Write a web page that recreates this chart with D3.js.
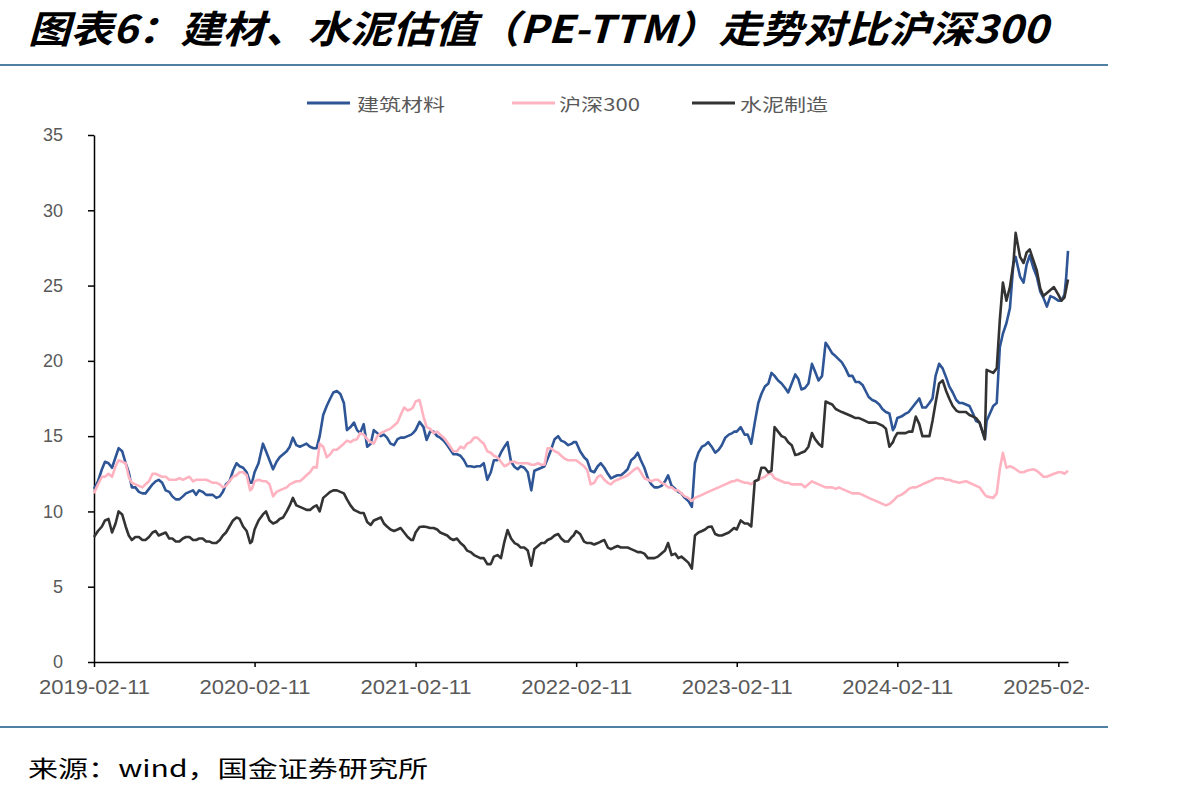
<!DOCTYPE html>
<html><head><meta charset="utf-8">
<script src="https://cdn.jsdelivr.net/npm/d3@7"></script>
<style>body{margin:0;background:#fff;} svg{display:block}</style>
</head><body><svg id="c" width="1198" height="798"></svg>
<script>
const dates = [
"2019-02-11","2019-02-20","2019-03-01","2019-03-08","2019-03-16","2019-03-24","2019-04-01","2019-04-08","2019-04-16","2019-04-24","2019-05-01","2019-05-08","2019-05-16","2019-05-24","2019-06-01","2019-06-08","2019-06-16","2019-06-24","2019-07-01","2019-07-08","2019-07-16","2019-07-24","2019-08-01","2019-08-08","2019-08-16","2019-08-24","2019-09-01","2019-09-08","2019-09-16","2019-09-24","2019-10-01","2019-10-08","2019-10-16","2019-10-24","2019-11-01","2019-11-08","2019-11-16","2019-11-24","2019-12-01","2019-12-08","2019-12-16","2019-12-24","2020-01-01","2020-01-08","2020-01-16","2020-01-24","2020-02-01","2020-02-05",
"2020-02-11","2020-02-20","2020-03-01","2020-03-08","2020-03-16","2020-03-24","2020-04-01","2020-04-08","2020-04-16","2020-04-24","2020-05-01","2020-05-08","2020-05-16","2020-05-24","2020-06-01","2020-06-08","2020-06-16","2020-06-24","2020-07-01","2020-07-08","2020-07-16","2020-07-24","2020-08-01","2020-08-08","2020-08-16","2020-08-24","2020-09-01","2020-09-08","2020-09-16","2020-09-24","2020-10-01","2020-10-08","2020-10-16","2020-10-24","2020-11-01","2020-11-08","2020-11-16","2020-11-24","2020-12-01","2020-12-08","2020-12-16","2020-12-24","2021-01-01","2021-01-08","2021-01-16","2021-01-24","2021-02-01","2021-02-05",
"2021-02-11","2021-02-20","2021-03-01","2021-03-08","2021-03-16","2021-03-24","2021-04-01","2021-04-08","2021-04-16","2021-04-24","2021-05-01","2021-05-08","2021-05-16","2021-05-24","2021-06-01","2021-06-08","2021-06-16","2021-06-24","2021-07-01","2021-07-08","2021-07-16","2021-07-24","2021-08-01","2021-08-08","2021-08-16","2021-08-24","2021-09-01","2021-09-08","2021-09-16","2021-09-24","2021-10-01","2021-10-08","2021-10-16","2021-10-24","2021-11-01","2021-11-08","2021-11-16","2021-11-24","2021-12-01","2021-12-08","2021-12-16","2021-12-24","2022-01-01","2022-01-08","2022-01-16","2022-01-24","2022-02-01","2022-02-05",
"2022-02-11","2022-02-20","2022-03-01","2022-03-08","2022-03-16","2022-03-24","2022-04-01","2022-04-08","2022-04-16","2022-04-24","2022-05-01","2022-05-08","2022-05-16","2022-05-24","2022-06-01","2022-06-08","2022-06-16","2022-06-24","2022-07-01","2022-07-08","2022-07-16","2022-07-24","2022-08-01","2022-08-08","2022-08-16","2022-08-24","2022-09-01","2022-09-08","2022-09-16","2022-09-24","2022-10-01","2022-10-08","2022-10-16","2022-10-24","2022-11-01","2022-11-08","2022-11-16","2022-11-24","2022-12-01","2022-12-08","2022-12-16","2022-12-24","2023-01-01","2023-01-08","2023-01-16","2023-01-24","2023-02-01","2023-02-05",
"2023-02-11","2023-02-20","2023-03-01","2023-03-08","2023-03-16","2023-03-24","2023-04-01","2023-04-08","2023-04-16","2023-04-24","2023-05-01","2023-05-08","2023-05-16","2023-05-24","2023-06-01","2023-06-08","2023-06-16","2023-06-24","2023-07-01","2023-07-08","2023-07-16","2023-07-24","2023-08-01","2023-08-08","2023-08-16","2023-08-24","2023-09-01","2023-09-08","2023-09-16","2023-09-24","2023-10-01","2023-10-08","2023-10-16","2023-10-24","2023-11-01","2023-11-08","2023-11-16","2023-11-24","2023-12-01","2023-12-08","2023-12-16","2023-12-24","2024-01-01","2024-01-08","2024-01-16","2024-01-24","2024-02-01","2024-02-05",
"2024-02-11","2024-02-20","2024-03-01","2024-03-08","2024-03-16","2024-03-24","2024-04-01","2024-04-08","2024-04-16","2024-04-24","2024-05-01","2024-05-08","2024-05-16","2024-05-24","2024-06-01","2024-06-08","2024-06-16","2024-06-24","2024-07-01","2024-07-08","2024-07-16","2024-07-24","2024-08-01","2024-08-08","2024-08-16",
"2024-08-28","2024-09-01","2024-09-16","2024-09-24","2024-10-01","2024-10-08","2024-10-16","2024-10-24","2024-11-01","2024-11-06","2024-11-16","2024-11-24","2024-12-01","2024-12-08","2024-12-16","2024-12-24","2025-01-01","2025-01-08","2025-01-16","2025-01-24","2025-02-01","2025-02-11","2025-02-18","2025-02-25","2025-03-01","2025-03-05"
];
// 建筑材料
const buildingMaterials = [
11.5,12.0,12.8,13.3,13.2,12.9,13.6,14.2,14.0,13.2,12.6,11.6,11.6,11.3,11.2,11.2,11.5,11.8,12.0,12.1,11.9,11.4,11.3,11.0,10.8,10.8,11.0,11.2,11.3,11.4,11.1,11.4,11.3,11.1,11.1,11.1,10.9,11.0,11.3,11.8,12.0,12.7,13.2,13.0,12.9,12.6,11.9,11.9,
12.6,13.2,14.5,14.0,13.4,12.8,13.3,13.6,13.8,14.0,14.3,14.9,14.4,14.3,14.4,14.5,14.3,14.2,14.2,15.0,16.4,17.0,17.5,17.9,18.0,17.8,17.2,15.4,15.6,15.9,15.4,15.2,15.8,14.3,14.5,15.4,15.2,15.0,15.1,14.9,14.5,14.4,14.8,14.9,14.9,15.0,15.1,15.2,
15.4,15.95,15.6,14.75,15.3,15.3,15.0,14.9,14.7,14.4,14.1,13.8,13.8,13.7,13.4,13.0,13.0,12.95,13.0,13.0,13.2,12.1,12.6,13.4,13.4,13.9,14.3,14.6,13.3,12.95,12.8,13.0,12.9,12.6,11.4,12.7,12.8,12.9,13.0,13.5,14.1,14.8,15.0,14.7,14.6,14.4,14.5,14.6,
14.6,14.0,13.6,13.4,12.7,12.6,13.0,13.2,12.9,12.5,12.2,12.3,12.4,12.4,12.6,12.8,13.4,13.6,13.9,13.4,12.9,12.2,11.8,11.6,11.6,11.7,12.0,12.4,11.7,11.5,11.3,11.2,10.9,10.7,10.3,13.2,13.9,14.3,14.4,14.6,14.3,13.9,14.1,14.4,14.9,15.1,15.2,15.3,
15.3,15.6,15.1,15.1,14.5,15.9,17.2,17.8,18.3,18.5,19.2,19.0,18.7,18.5,18.2,17.9,18.5,19.1,18.8,18.1,18.2,18.5,19.8,19.3,18.7,19.0,21.2,20.9,20.5,20.3,20.1,19.9,19.5,19.0,19.0,18.6,18.6,18.4,18.0,17.6,17.4,17.3,17.1,16.8,16.6,16.5,15.4,15.6,
16.2,16.3,16.5,16.6,16.9,17.2,17.5,16.9,16.9,17.2,17.5,19.0,19.8,19.5,18.9,18.3,17.9,17.4,17.2,17.2,17.1,17.0,16.5,16.0,15.9,
14.8,16.0,17.0,17.2,20.9,21.8,22.5,23.5,26.5,26.9,25.6,25.2,26.4,27.0,26.2,25.6,24.6,24.2,23.6,24.3,24.2,24.0,24.0,24.4,25.6,27.3
];
// 沪深300
const hs300 = [
11.2,11.8,12.3,12.3,12.5,12.3,13.0,13.4,13.3,13.2,12.3,11.9,11.8,11.7,11.6,11.8,12.0,12.5,12.5,12.4,12.3,12.3,12.1,12.1,12.1,12.2,12.1,12.2,12.3,12.0,12.1,12.1,12.1,12.1,12.0,11.9,11.9,11.8,11.6,11.7,12.0,12.3,12.4,12.6,12.6,12.4,11.4,11.5,
12.0,12.1,12.0,12.0,11.8,11.0,11.3,11.4,11.5,11.6,11.8,11.9,12.0,12.0,12.2,12.4,12.6,12.95,12.9,14.5,14.3,13.6,13.8,14.1,14.1,14.3,14.5,14.7,14.6,14.75,14.8,15.2,15.1,14.8,14.6,14.5,15.0,15.2,15.3,15.4,15.5,15.7,15.9,16.4,16.9,16.7,16.8,16.9,
17.3,17.4,16.3,15.6,15.5,15.2,15.3,15.1,14.9,14.6,14.3,14.0,14.0,14.3,14.2,14.5,14.6,14.9,14.9,14.7,14.5,14.0,13.9,13.7,13.6,13.3,13.0,13.1,13.3,13.3,13.2,13.2,13.2,13.2,13.1,13.1,13.2,13.1,13.1,14.2,14.2,14.0,13.9,13.7,13.5,13.4,13.4,13.4,
13.4,13.2,13.0,12.75,11.8,11.9,12.3,12.4,12.1,11.9,11.8,12.0,12.1,12.2,12.3,12.4,12.6,12.8,12.9,12.6,12.2,12.1,12.0,12.1,12.1,11.9,11.8,11.6,11.6,11.4,11.4,11.2,11.0,10.9,10.7,10.9,11.0,11.1,11.2,11.3,11.4,11.5,11.6,11.7,11.8,11.9,12.0,12.0,
12.1,12.0,11.9,11.9,11.8,12.0,12.1,12.2,12.3,12.5,12.5,12.2,12.1,12.0,11.9,11.9,11.8,11.8,11.8,11.8,11.6,11.8,12.0,11.9,11.8,11.7,11.6,11.6,11.6,11.5,11.6,11.5,11.4,11.3,11.2,11.2,11.2,11.1,11.0,10.9,10.8,10.7,10.6,10.5,10.4,10.5,10.7,10.8,
11.0,11.1,11.3,11.5,11.6,11.6,11.7,11.8,11.9,12.0,12.1,12.2,12.2,12.2,12.1,12.1,12.0,11.95,11.9,11.95,12.0,11.9,11.8,11.7,11.6,
11.1,11.0,10.9,11.2,12.8,13.9,12.9,13.0,12.9,12.8,12.6,12.6,12.7,12.75,12.8,12.7,12.5,12.3,12.3,12.4,12.5,12.6,12.6,12.5,12.6,12.7
];
// 水泥制造
const cement = [
8.3,8.7,9.0,9.4,9.5,8.6,9.2,10.0,9.8,9.0,8.4,8.1,8.3,8.3,8.1,8.1,8.3,8.6,8.7,8.4,8.5,8.6,8.2,8.2,8.0,8.0,8.2,8.3,8.3,8.1,8.1,8.2,8.2,8.0,8.0,7.9,7.9,8.1,8.4,8.6,9.0,9.4,9.6,9.5,9.0,8.7,7.9,8.0,
8.8,9.4,9.8,10.0,9.4,9.2,9.3,9.5,9.6,10.0,10.4,10.9,10.4,10.3,10.2,10.1,10.1,10.3,10.4,10.0,10.9,11.1,11.3,11.4,11.4,11.3,11.2,10.8,10.4,10.1,10.0,9.9,9.9,9.3,9.1,9.4,9.5,9.6,9.2,9.0,8.8,8.7,8.8,8.9,8.6,8.3,8.1,8.1,
8.6,8.96,9.0,8.96,8.9,8.9,8.8,8.6,8.5,8.4,8.2,8.1,8.2,7.9,7.7,7.4,7.3,7.1,7.0,6.9,6.9,6.5,6.5,7.0,7.1,6.9,8.0,8.76,8.2,7.9,7.8,7.6,7.6,7.4,6.4,7.5,7.7,7.9,7.9,8.1,8.2,8.4,8.5,8.2,8.0,8.0,8.3,8.4,
8.7,8.5,8.0,7.9,7.9,7.8,7.9,8.0,8.1,7.6,7.5,7.6,7.7,7.6,7.6,7.6,7.5,7.4,7.3,7.3,7.2,6.9,6.9,6.9,7.0,7.2,7.4,7.9,7.1,7.2,6.9,7.0,6.8,6.6,6.2,8.4,8.6,8.7,8.8,8.96,9.0,8.5,8.4,8.4,8.5,8.6,8.8,8.9,
8.8,9.4,9.2,9.2,9.0,12.0,12.1,12.9,12.9,12.6,12.7,15.6,15.3,15.0,14.9,14.6,14.4,13.75,13.8,13.9,14.0,14.3,15.2,14.8,14.5,14.3,17.3,17.2,17.1,16.8,16.7,16.6,16.5,16.4,16.3,16.2,16.2,16.1,16.0,15.9,15.9,15.9,15.8,15.7,15.5,14.3,14.6,14.9,
15.2,15.2,15.2,15.3,15.3,16.3,15.8,15.0,15.0,15.0,16.0,17.2,18.5,18.7,18.0,17.5,17.0,16.7,16.6,16.6,16.6,16.4,16.3,16.2,15.9,
14.8,19.4,19.2,19.5,22.7,25.2,24.0,24.9,26.5,28.5,26.9,26.5,27.2,27.4,26.7,26.0,24.8,24.3,24.5,24.7,24.9,24.4,24.0,24.2,24.8,25.4
];
const seriesNames = ["建筑材料", "沪深300", "水泥制造"];
const seriesColors = ["#2e5596", "#ffb3c1", "#333333"];
const xTickLabels = ["2019-02-11","2020-02-11","2021-02-11","2022-02-11","2023-02-11","2024-02-11","2025-02-11"];
const yTicks = [0, 5, 10, 15, 20, 25, 30, 35];
const titleText = "图表6：建材、水泥估值（PE-TTM）走势对比沪深300";
const sourceText = "来源：wind，国金证券研究所";

const svg = d3.select("#c");
const parse = d3.timeParse("%Y-%m-%d");
const fmt = d3.timeFormat("%Y-%m-%d");
const X = dates.map(parse);
const x = d3.scaleTime().domain([X[0], X[X.length - 1]]).range([94, 1068]);
const y = d3.scaleLinear().domain([0, 35]).range([662, 135]);

// title
svg.append("text").attr("x", 28).attr("y", 43)
  .attr("font-family", "'Noto Sans CJK SC', sans-serif").attr("font-weight", 700)
  .attr("font-style", "italic").attr("font-size", 38).attr("fill", "#000")
  .attr("textLength", 1020).attr("lengthAdjust", "spacingAndGlyphs")
  .text(titleText);

// rules
[65, 727].forEach(yy => {
  svg.append("line").attr("x1", 0).attr("x2", 1108).attr("y1", yy).attr("y2", yy)
    .attr("stroke", "#4f7fa3").attr("stroke-width", 2);
});

// legend
const legendPos = [{lx: 307, tx: 357, tw: 88}, {lx: 512, tx: 559, tw: 81}, {lx: 692, tx: 740, tw: 88}];
seriesNames.forEach((n, i) => {
  const p = legendPos[i];
  svg.append("line").attr("x1", p.lx).attr("x2", p.lx + 43).attr("y1", 103).attr("y2", 103)
    .attr("stroke", seriesColors[i]).attr("stroke-width", 3);
  svg.append("text").attr("x", p.tx).attr("y", 103).attr("dominant-baseline", "central")
    .attr("font-family", "'Noto Sans CJK SC', sans-serif").attr("font-size", 17)
    .attr("fill", "#595959").attr("textLength", p.tw).attr("lengthAdjust", "spacingAndGlyphs")
    .text(n);
});

// y axis
const gy = svg.append("g").attr("transform", "translate(94,0)")
  .call(d3.axisLeft(y).tickValues(yTicks).tickSize(6).tickSizeOuter(0).tickPadding(25));
gy.select(".domain").attr("stroke", "#000").attr("stroke-width", 1.5);
gy.selectAll(".tick line").attr("stroke", "#000").attr("stroke-width", 1.5);
gy.selectAll(".tick text").attr("font-family", "'Liberation Sans', Arial, sans-serif")
  .attr("font-size", 18).attr("fill", "#595959");

// x axis with clipped labels
svg.append("defs").append("clipPath").attr("id", "xclip")
  .append("rect").attr("x", -100).attr("y", -10).attr("width", 1089 + 100).attr("height", 120);
const gx = svg.append("g").attr("transform", "translate(0,662)").attr("clip-path", "url(#xclip)")
  .call(d3.axisBottom(x).tickValues(xTickLabels.map(parse)).tickFormat(fmt)
    .tickSize(5).tickSizeOuter(0).tickPadding(13));
gx.select(".domain").attr("stroke", "#000").attr("stroke-width", 1.5);
gx.selectAll(".tick line").attr("stroke", "#000").attr("stroke-width", 1.5);
gx.selectAll(".tick text").attr("font-family", "'Liberation Sans', Arial, sans-serif")
  .attr("font-size", 20).attr("fill", "#595959")
  .attr("textLength", 111).attr("lengthAdjust", "spacingAndGlyphs");

// lines
const allSeries = [buildingMaterials, hs300, cement];
const n = Math.min(dates.length, ...allSeries.map(s => s.length));
const line = d3.line().x((d, i) => x(X[i])).y(d => y(d));
allSeries.forEach((s, i) => {
  svg.append("path").datum(s.slice(0, n)).attr("d", line).attr("fill", "none")
    .attr("stroke", seriesColors[i]).attr("stroke-width", 2.6).attr("stroke-linejoin", "round");
});

// source
svg.append("text").attr("x", 28).attr("y", 777)
  .attr("font-family", "'Noto Sans CJK SC', sans-serif").attr("font-size", 23).attr("fill", "#000")
  .attr("textLength", 400).attr("lengthAdjust", "spacingAndGlyphs")
  .text(sourceText);
</script>
</body></html>
